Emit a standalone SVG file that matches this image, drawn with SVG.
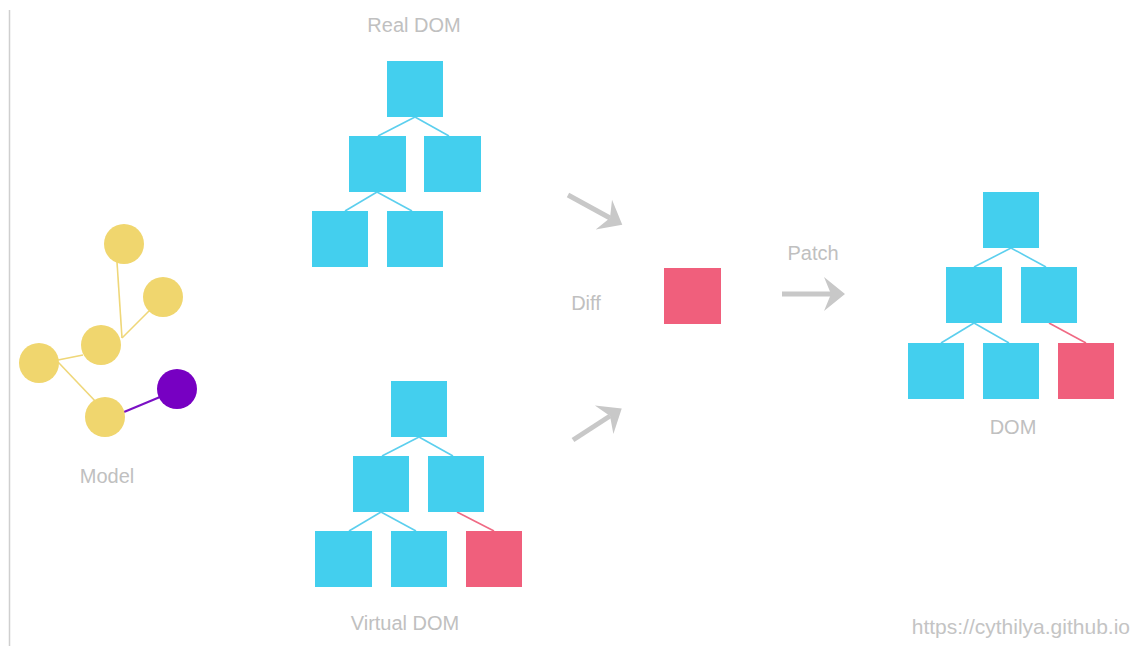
<svg xmlns="http://www.w3.org/2000/svg" width="1132" height="646" viewBox="0 0 1132 646">
<style>
.lbl{font-family:"Liberation Sans",Arial,sans-serif;font-size:20px;fill:#c0c0c0;text-anchor:middle}
.blue{fill:#43cfee}
.red{fill:#f05f7c}
.yel{fill:#f0d66e}
.bl{stroke:#5ccfee;stroke-width:1.6;fill:none}
.rl{stroke:#f06a84;stroke-width:1.6;fill:none}
.yl{stroke:#efd779;stroke-width:1.6;fill:none}
.arr{stroke:#c8c8c8;stroke-width:5;fill:none;marker-end:url(#head)}
</style>
<defs>
<marker id="head" markerUnits="userSpaceOnUse" markerWidth="40" markerHeight="40" refX="0" refY="0" orient="auto" overflow="visible">
<path d="M14,0 L-7,-17 L0,0 L-7,17 Z" fill="#c8c8c8"/>
</marker>
</defs>
<rect width="1132" height="646" fill="#ffffff"/>
<line x1="9.5" y1="10" x2="9.5" y2="646" stroke="#cfcfcf" stroke-width="1.5"/>

<g id="connectors">
  <line class="yl" x1="117" y1="262" x2="122" y2="338"/>
  <line class="yl" x1="149" y1="311" x2="122" y2="338"/>
  <line class="yl" x1="83" y1="355" x2="58" y2="360"/>
  <line class="yl" x1="58" y1="362" x2="97" y2="403"/>
  <line x1="124" y1="412" x2="160" y2="397" stroke="#7a10c4" stroke-width="2"/>
  <line class="bl" x1="415" y1="117" x2="378" y2="136"/>
  <line class="bl" x1="415" y1="117" x2="449" y2="136"/>
  <line class="bl" x1="377" y1="192" x2="345" y2="211"/>
  <line class="bl" x1="377" y1="192" x2="412" y2="211"/>
  <line class="bl" x1="419" y1="437" x2="382" y2="456"/>
  <line class="bl" x1="419" y1="437" x2="453" y2="456"/>
  <line class="bl" x1="381" y1="512" x2="349" y2="531"/>
  <line class="bl" x1="381" y1="512" x2="416" y2="531"/>
  <line class="rl" x1="457" y1="512" x2="494" y2="531"/>
  <line class="bl" x1="1011" y1="248" x2="974" y2="267"/>
  <line class="bl" x1="1011" y1="248" x2="1046" y2="267"/>
  <line class="bl" x1="974" y1="323" x2="941" y2="343"/>
  <line class="bl" x1="974" y1="323" x2="1009" y2="343"/>
  <line class="rl" x1="1049" y1="323" x2="1086" y2="343"/>
  <line class="arr" x1="568" y1="195" x2="610" y2="218"/>
  <line class="arr" x1="573" y1="440" x2="610" y2="416"/>
  <line class="arr" x1="782" y1="294" x2="831" y2="294"/>
</g>

<g id="model">
  <circle class="yel" cx="124" cy="244" r="20"/>
  <circle class="yel" cx="163" cy="297" r="20"/>
  <circle class="yel" cx="101" cy="345" r="20"/>
  <circle class="yel" cx="39" cy="363" r="20"/>
  <circle class="yel" cx="105" cy="417" r="20"/>
  <circle cx="177" cy="389" r="20" fill="#7700c2"/>
  <text class="lbl" x="107" y="483">Model</text>
</g>

<g id="real-dom">
  <text class="lbl" x="414" y="32">Real DOM</text>
  <rect class="blue" x="387" y="61" width="56" height="56"/>
  <rect class="blue" x="349" y="136" width="57" height="56"/>
  <rect class="blue" x="424" y="136" width="57" height="56"/>
  <rect class="blue" x="312" y="211" width="56" height="56"/>
  <rect class="blue" x="387" y="211" width="56" height="56"/>
</g>

<g id="virtual-dom">
  <rect class="blue" x="391" y="381" width="56" height="56"/>
  <rect class="blue" x="353" y="456" width="56" height="56"/>
  <rect class="blue" x="428" y="456" width="56" height="56"/>
  <rect class="blue" x="315" y="531" width="57" height="56"/>
  <rect class="blue" x="391" y="531" width="56" height="56"/>
  <rect class="red" x="466" y="531" width="56" height="56"/>
  <text class="lbl" x="405" y="630">Virtual DOM</text>
</g>

<g id="diff">
  <text class="lbl" x="586" y="310">Diff</text>
  <rect class="red" x="664" y="268" width="57" height="56"/>
</g>

<g id="patch">
  <text class="lbl" x="813" y="260">Patch</text>
</g>

<g id="dom">
  <rect class="blue" x="983" y="192" width="56" height="56"/>
  <rect class="blue" x="946" y="267" width="56" height="56"/>
  <rect class="blue" x="1021" y="267" width="56" height="56"/>
  <rect class="blue" x="908" y="343" width="56" height="56"/>
  <rect class="blue" x="983" y="343" width="56" height="56"/>
  <rect class="red" x="1058" y="343" width="56" height="56"/>
  <text class="lbl" x="1013" y="434">DOM</text>
</g>

<text x="1130" y="634" font-family="'Liberation Sans',Arial,sans-serif" font-size="21" fill="#c4c4c4" text-anchor="end">https://cythilya.github.io</text>
</svg>
